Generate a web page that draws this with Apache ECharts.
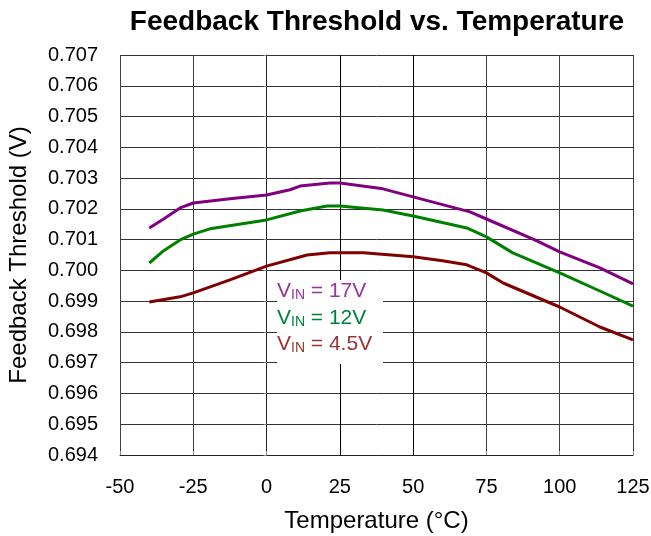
<!DOCTYPE html>
<html>
<head>
<meta charset="utf-8">
<script src="https://cdn.jsdelivr.net/npm/echarts@6/dist/echarts.min.js"></script>
<style>html,body{margin:0;padding:0;background:#fff;}#chart{width:651px;height:536px;}</style>
</head>
<body>
<div id="chart"></div>
<script>
var xTicks = [-50, -25, 0, 25, 50, 75, 100, 125];
var yTicks = [0.694, 0.695, 0.696, 0.697, 0.698, 0.699, 0.700, 0.701, 0.702, 0.703, 0.704, 0.705, 0.706, 0.707];

var temp17 = [-40, -35, -29.5, -25, -12.5, 0, 8, 11.4, 21.6, 25, 39.7, 50, 69.4, 75, 91.5, 100, 113.7, 125];
var vin17  = [0.70138, 0.70168, 0.70203, 0.70219, 0.70233, 0.70245, 0.70262, 0.70274, 0.70284, 0.70284, 0.70265, 0.70239, 0.70190, 0.70167, 0.70099, 0.70060, 0.70008, 0.69956];

var temp12 = [-40, -35, -29.5, -25, -19.3, 0, 11.4, 20.6, 25, 39.7, 50, 68.3, 75, 84, 100, 113.7, 125];
var vin12  = [0.70024, 0.70065, 0.70099, 0.70118, 0.70135, 0.70164, 0.70193, 0.70209, 0.70209, 0.70196, 0.70177, 0.70138, 0.70109, 0.70057, 0.69992, 0.69933, 0.69884];

var temp45 = [-40, -29.5, -25, -12.5, 0, 13.8, 21.6, 33, 50, 60, 68.3, 75, 80.7, 100, 113.7, 125];
var vin45  = [0.69897, 0.69914, 0.69927, 0.69969, 0.70014, 0.70050, 0.70057, 0.70057, 0.70044, 0.70031, 0.70018, 0.69992, 0.69959, 0.69881, 0.69816, 0.69774];

var seriesNames = ['VIN = 17V', 'VIN = 12V', 'VIN = 4.5V'];
var legendValues = ['17V', '12V', '4.5V'];

function pairs(xs, ys) { return xs.map(function (x, i) { return [x, ys[i]]; }); }

var FONT = "'Liberation Sans', Arial, sans-serif";
var lineColors = ['#800080', '#008000', '#800000'];
var textColors = ['#993399', '#00803f', '#993333'];

var chart = echarts.init(document.getElementById('chart'), null, {renderer: 'canvas'});

function legendText(i, y) {
  return {
    type: 'text', left: 277, top: y, z: 101,
    style: {
      text: '{a|V}{b|IN}{a| = ' + legendValues[i] + '}',
      rich: {
        a: {fontSize: 21, fontFamily: FONT, fill: textColors[i], color: textColors[i], verticalAlign: 'bottom', lineHeight: 24},
        b: {fontSize: 14, fontFamily: FONT, fill: textColors[i], color: textColors[i], verticalAlign: 'bottom', lineHeight: 24}
      }
    }
  };
}

var option = {
  backgroundColor: '#fff',
  animation: false,
  title: {
    text: 'Feedback Threshold vs. Temperature',
    left: 377, textAlign: 'center', top: 8, padding: 0,
    textStyle: {fontFamily: FONT, fontSize: 28, fontWeight: 'bold', color: '#000'}
  },
  grid: {left: 120, right: 18, top: 55, bottom: 81, containLabel: false, outerBoundsMode: 'none'},
  xAxis: {
    type: 'value', min: -50, max: 125, interval: 25,
    name: 'Temperature (°C)', nameLocation: 'middle', nameGap: 54,
    nameTextStyle: {fontFamily: FONT, fontSize: 24, color: '#000'},
    axisLine: {show: true, lineStyle: {color: '#222', width: 1}},
    axisTick: {show: true, inside: true, length: 4, lineStyle: {color: '#888'}},
    axisLabel: {fontFamily: FONT, fontSize: 20, color: '#000', margin: 22},
    splitLine: {show: true, lineStyle: {color: '#404040', width: 1}}
  },
  yAxis: {
    type: 'value', min: 0.694, max: 0.707, interval: 0.001,
    name: 'Feedback Threshold (V)', nameLocation: 'middle', nameGap: 89, nameRotate: 90,
    nameTextStyle: {fontFamily: FONT, fontSize: 24, color: '#000'},
    axisLine: {show: true, lineStyle: {color: '#222', width: 1}},
    axisTick: {show: true, inside: false, length: 3, lineStyle: {color: '#888'}},
    axisLabel: {fontFamily: FONT, fontSize: 20, color: '#000', margin: 22,
      formatter: function (v) { return v.toFixed(3); }},
    splitLine: {show: true, lineStyle: {color: '#333', width: 1}}
  },
  series: [
    {
      name: 'grid accents', type: 'line', data: [], z: 2,
      markLine: {
        silent: true, symbol: 'none', label: {show: false}, animation: false,
        data: [
          {yAxis: 0.706, lineStyle: {color: '#808080', width: 2.5, type: 'solid'}},
          {xAxis: 25, lineStyle: {color: '#000', width: 1, type: 'solid'}},
          {xAxis: 50, lineStyle: {color: '#000', width: 1, type: 'solid'}}
        ]
      }
    },
    {name: seriesNames[0], type: 'line', data: pairs(temp17, vin17), symbol: 'none', lineStyle: {color: lineColors[0], width: 3}, z: 5},
    {name: seriesNames[1], type: 'line', data: pairs(temp12, vin12), symbol: 'none', lineStyle: {color: lineColors[1], width: 3}, z: 5},
    {name: seriesNames[2], type: 'line', data: pairs(temp45, vin45), symbol: 'none', lineStyle: {color: lineColors[2], width: 3}, z: 5}
  ],
  graphic: [
    {type: 'rect', left: 277, top: 280, z: 100, shape: {width: 106, height: 84}, style: {fill: '#fff'}},
    legendText(0, 281),
    legendText(1, 308),
    legendText(2, 334)
  ]
};
chart.setOption(option);
</script>
</body>
</html>
